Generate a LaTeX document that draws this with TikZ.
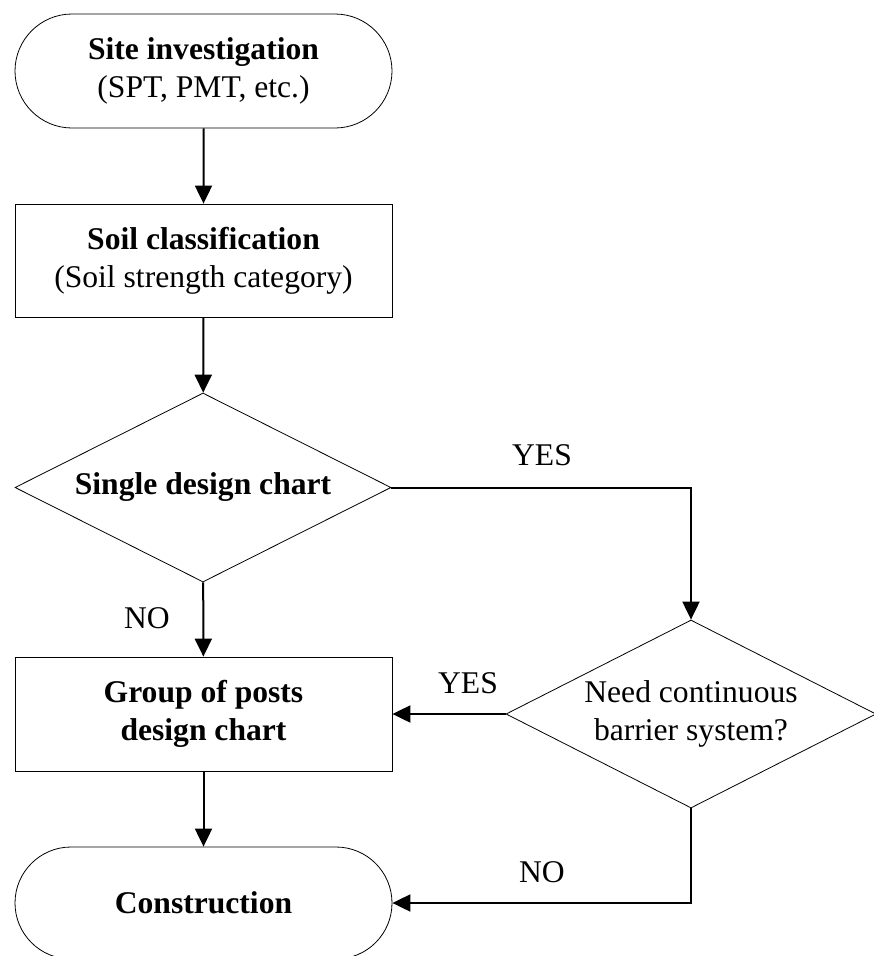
\documentclass[tikz,border=0pt]{standalone}
\usepackage{fontspec}
\setmainfont{Liberation Serif}
\usetikzlibrary{shapes.misc,shapes.geometric,arrows.meta}

\newcommand{\chartfont}{\fontsize{31.6pt}{38pt}\selectfont}

\begin{document}
\begin{tikzpicture}[x=1pt,y=-1pt,
	term/.style={draw, line width=0.8pt, rounded rectangle, minimum width=377pt, align=center, inner sep=0pt, font=\chartfont},
	stepbox/.style={draw, line width=0.8pt, rectangle, minimum width=377pt, minimum height=114pt, align=center, inner sep=0pt, font=\chartfont},
	decide/.style={draw, line width=0.8pt, diamond, aspect=2, inner sep=0pt, align=center, font=\chartfont},
	flow/.style={line width=2pt, -{Triangle[length=18pt,width=17pt]}},
	lbl/.style={font=\chartfont}]

	\useasboundingbox (0,0) rectangle (874,956);

	% Boxes of the main column
	\node[term, minimum height=114pt] (site) at (203.5,71) {\textbf{Site investigation}\\(SPT, PMT, etc.)};
	\node[stepbox, minimum height=113pt] (soil) at (203.5,260.5) {\textbf{Soil classification}\\(Soil strength category)};
	\node[decide, minimum width=376pt, minimum height=189pt] (single) at (203,487.5) {\textbf{Single design chart}};
	\node[stepbox] (group) at (203.5,714) {\textbf{Group of posts}\\\textbf{design chart}};
	\node[term, minimum height=112pt] (build) at (203.5,903) {\textbf{Construction}};

	% Side decision
	\node[decide, minimum width=370pt, minimum height=188pt] (need) at (691,714) {Need continuous\\barrier system?};

	% Arrows
	\draw[flow] (site) -- (soil);
	\draw[flow] (soil) -- (single);
	\draw[flow] (single) -- (group);
	\draw[flow] (single.east) -| (need.north);
	\draw[flow] (need.west) -- (group.east);
	\draw[flow] (group) -- (build);
	\draw[flow] (need.south) |- (build.east);

	% Labels
	\node[lbl] (noa) at (147,618) {NO};
	\node[lbl] (yesa) at (542,455) {YES};
	\node[lbl] (yesb) at (468,683) {YES};
	\node[lbl] (nob) at (542,872) {NO};

\end{tikzpicture}
\end{document}
